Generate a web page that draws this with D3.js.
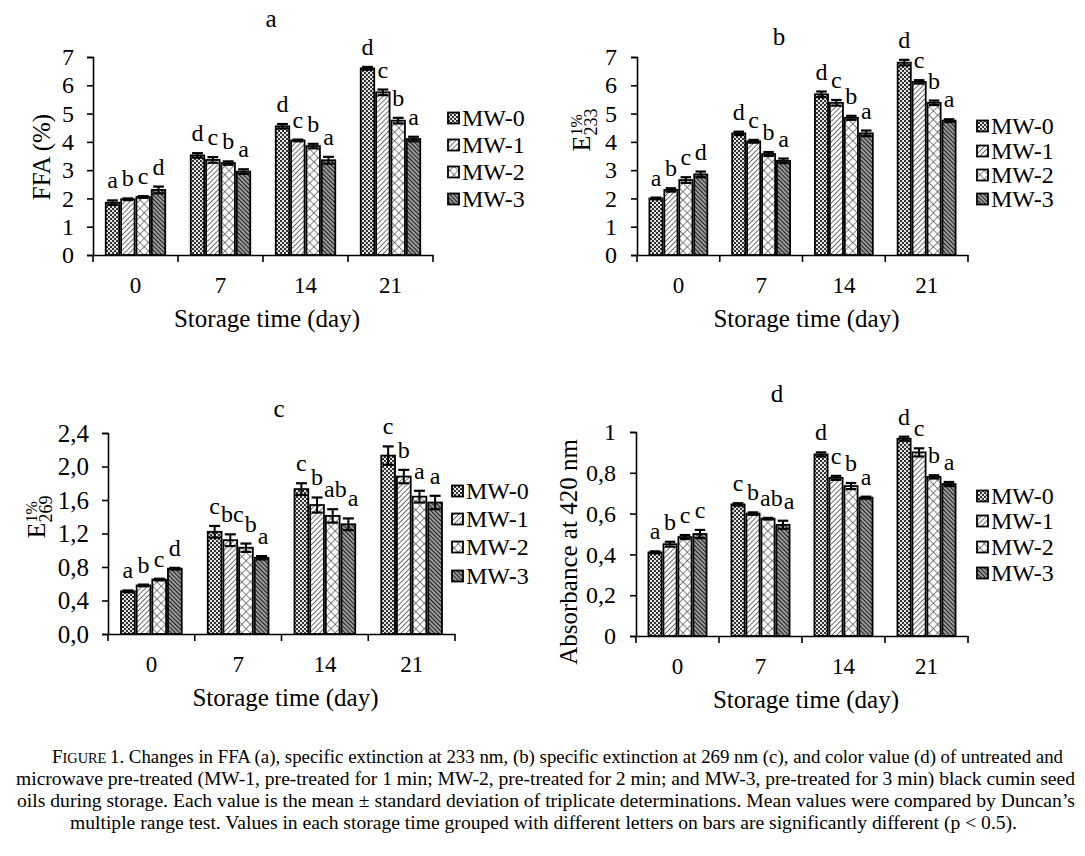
<!DOCTYPE html>
<html><head><meta charset="utf-8">
<script src="https://cdn.jsdelivr.net/npm/d3@7"></script>
<style>
body{margin:0;background:#fff}
svg{display:block}
text{font-family:"Liberation Serif","Times New Roman",serif;fill:#000}
</style>
</head><body>
<svg id="chart" width="1085" height="856"></svg>
<script>
// ---------- DATA ----------
const categories = ["0","7","14","21"];
const seriesNames = ["MW-0","MW-1","MW-2","MW-3"];

// Panel a: FFA (%)  [storage day][series]
const ffaMean = [[1.85,1.97,2.05,2.30],[3.52,3.36,3.25,2.95],[4.55,4.05,3.85,3.35],[6.60,5.75,4.75,4.10]];
const ffaErr  = [[0.08,0.03,0.03,0.12],[0.08,0.10,0.06,0.08],[0.08,0.03,0.08,0.12],[0.05,0.10,0.10,0.08]];
const ffaLetters = [["a","b","c","d"],["d","c","b","a"],["d","c","b","a"],["d","c","b","a"]];
const ffaTicks = [0,1,2,3,4,5,6,7];
const ffaTickLabels = ["0","1","2","3","4","5","6","7"];

// Panel b: E1%233
const e233Mean = [[2.00,2.30,2.65,2.85],[4.30,4.02,3.57,3.33],[5.68,5.38,4.85,4.30],[6.80,6.12,5.38,4.75]];
const e233Err  = [[0.03,0.06,0.10,0.10],[0.06,0.05,0.07,0.08],[0.10,0.10,0.07,0.10],[0.10,0.06,0.08,0.05]];
const e233Letters = [["a","b","c","d"],["d","c","b","a"],["d","c","b","a"],["d","c","b","a"]];
const e233Ticks = [0,1,2,3,4,5,6,7];
const e233TickLabels = ["0","1","2","3","4","5","6","7"];

// Panel c: E1%269
const e269Mean = [[0.51,0.58,0.65,0.78],[1.22,1.12,1.03,0.91],[1.73,1.54,1.41,1.31],[2.13,1.88,1.64,1.57]];
const e269Err  = [[0.01,0.01,0.01,0.01],[0.07,0.07,0.05,0.02],[0.07,0.09,0.08,0.07],[0.11,0.08,0.07,0.08]];
const e269Letters = [["a","b","c","d"],["c","bc","b","a"],["c","b","ab","a"],["c","b","a","a"]];
const e269Ticks = [0,0.4,0.8,1.2,1.6,2.0,2.4];
const e269TickLabels = ["0,0","0,4","0,8","1,2","1,6","2,0","2,4"];

// Panel d: Absorbance at 420 nm
const absMean = [[0.41,0.45,0.485,0.50],[0.645,0.60,0.575,0.545],[0.89,0.775,0.735,0.678],[0.967,0.90,0.78,0.745]];
const absErr  = [[0.005,0.012,0.010,0.020],[0.006,0.006,0.004,0.020],[0.010,0.010,0.015,0.005],[0.010,0.020,0.008,0.010]];
const absLetters = [["a","b","c","c"],["c","b","ab","a"],["d","c","b","a"],["d","c","b","a"]];
const absTicks = [0,0.2,0.4,0.6,0.8,1];
const absTickLabels = ["0","0,2","0,4","0,6","0,8","1"];

const xTitle = "Storage time (day)";
const captionLines = [
  "1. Changes in FFA (a), specific extinction at 233 nm, (b) specific extinction at 269 nm (c), and color value (d) of untreated and",
  "microwave pre-treated (MW-1, pre-treated for 1 min; MW-2, pre-treated for 2 min; and MW-3, pre-treated for 3 min) black cumin seed",
  "oils during storage. Each value is the mean \u00b1 standard deviation of triplicate determinations. Mean values were compared by Duncan\u2019s",
  "multiple range test. Values in each storage time grouped  with different letters on bars are significantly different (p < 0.5)."
];

// ---------- LAYOUT ----------
const panels = [
  {mean:ffaMean, err:ffaErr, letters:ffaLetters, ticks:ffaTicks, tickLabels:ffaTickLabels, max:7,
   left:93, right:433, top:57, bottom:255, title:"a", titleX:271, titleY:27, yFont:24,
   legX:448, legY:[118,145,172,199], ylab:{type:"plain", text:"FFA (%)", x:50, y:157}, xTitleY:327, tickGap:19},
  {mean:e233Mean, err:e233Err, letters:e233Letters, ticks:e233Ticks, tickLabels:e233TickLabels, max:7,
   left:637, right:968, top:57, bottom:255, title:"b", titleX:779, titleY:45, yFont:24,
   legX:977, legY:[126,151,175,199], ylab:{type:"E", sub:"233", x:590, y:130}, xTitleY:327, tickGap:20},
  {mean:e269Mean, err:e269Err, letters:e269Letters, ticks:e269Ticks, tickLabels:e269TickLabels, max:2.4,
   left:108, right:455, top:433, bottom:634, title:"c", titleX:279, titleY:417, yFont:25,
   legX:452, legY:[491,519,547,576], ylab:{type:"E", sub:"269", x:45, y:517}, xTitleY:706, tickGap:19},
  {mean:absMean, err:absErr, letters:absLetters, ticks:absTicks, tickLabels:absTickLabels, max:1,
   left:636, right:968, top:432, bottom:636, title:"d", titleX:777, titleY:402, yFont:24,
   legX:977, legY:[496,521,547,573], ylab:{type:"plain", text:"Absorbance at 420 nm", x:577, y:552}, xTitleY:708, tickGap:20}
];

const svg = d3.select("#chart");
const defs = svg.append("defs");

// patterns
(function(){
  let p = defs.append("pattern").attr("id","pat0").attr("patternUnits","userSpaceOnUse").attr("width",4).attr("height",4);
  p.append("rect").attr("width",4).attr("height",4).attr("fill","#e4e4e4");
  p.append("rect").attr("width",2).attr("height",2).attr("fill","#333");
  p.append("rect").attr("x",2).attr("y",2).attr("width",2).attr("height",2).attr("fill","#333");

  p = defs.append("pattern").attr("id","pat1").attr("patternUnits","userSpaceOnUse").attr("width",3.6).attr("height",3.6)
      .attr("patternTransform","rotate(45)");
  p.append("rect").attr("width",3.6).attr("height",3.6).attr("fill","#fff");
  p.append("line").attr("x1",0).attr("y1",0).attr("x2",0).attr("y2",3.6).attr("stroke","#333").attr("stroke-width",1.4);

  p = defs.append("pattern").attr("id","pat2").attr("patternUnits","userSpaceOnUse").attr("width",6).attr("height",6)
      .attr("patternTransform","rotate(45)");
  p.append("rect").attr("width",6).attr("height",6).attr("fill","#fff");
  p.append("line").attr("x1",0).attr("y1",0).attr("x2",6).attr("y2",0).attr("stroke","#444").attr("stroke-width",1.3);
  p.append("line").attr("x1",0).attr("y1",0).attr("x2",0).attr("y2",6).attr("stroke","#444").attr("stroke-width",1.3);

  p = defs.append("pattern").attr("id","pat3").attr("patternUnits","userSpaceOnUse").attr("width",3).attr("height",3)
      .attr("patternTransform","rotate(-45)");
  p.append("rect").attr("width",3).attr("height",3).attr("fill","#999");
  p.append("line").attr("x1",0).attr("y1",0).attr("x2",0).attr("y2",3).attr("stroke","#111").attr("stroke-width",1.8);
})();
const fills = seriesNames.map((s,i)=>`url(#pat${i})`);

panels.forEach(P => {
  const g = svg.append("g");
  const x0 = d3.scaleBand().domain(categories).range([P.left, P.right]).paddingInner(0.3).paddingOuter(0.15);
  const x1 = d3.scaleBand().domain(seriesNames).range([0, x0.bandwidth()]).paddingInner(0.12);
  const y = d3.scaleLinear().domain([0, P.max]).range([P.bottom, P.top]);

  // y axis
  const yAxis = d3.axisLeft(y).tickValues(P.ticks).tickFormat((d,i)=>P.tickLabels[i]).tickSizeOuter(0).tickSize(6).tickPadding(P.tickGap-6);
  const ya = g.append("g").attr("transform",`translate(${P.left},0)`).call(yAxis);
  ya.select(".domain").attr("stroke","#000").attr("stroke-width",1.6);
  ya.selectAll(".tick line").attr("stroke","#000").attr("stroke-width",1.6);
  ya.selectAll(".tick text").attr("font-size",P.yFont).attr("font-family","Liberation Serif").attr("fill","#000");

  // x axis with ticks at category boundaries
  const xa = g.append("g").attr("transform",`translate(0,${P.bottom})`).call(d3.axisBottom(x0).tickSize(0).tickPadding(22));
  xa.select(".domain").attr("stroke","#000").attr("stroke-width",1.6);
  xa.selectAll(".tick text").attr("font-size",23).attr("font-family","Liberation Serif").attr("fill","#000");
  const step = x0.step();
  const bounds = categories.map(c => x0(c) - step*0.15).concat([x0(categories[categories.length-1]) + x0.bandwidth() + step*0.15]);
  g.selectAll(".xb").data(bounds).join("line").attr("x1",d=>d).attr("x2",d=>d)
    .attr("y1",P.bottom).attr("y2",P.bottom+7).attr("stroke","#000").attr("stroke-width",1.6);

  // bars
  const flat = [];
  categories.forEach((c,ci)=>seriesNames.forEach((s,si)=>flat.push({c,ci,s,si,v:P.mean[ci][si],e:P.err[ci][si],l:P.letters[ci][si]})));
  g.selectAll(".bar").data(flat).join("rect")
    .attr("x",d=>x0(d.c)+x1(d.s)).attr("width",x1.bandwidth())
    .attr("y",d=>y(d.v)).attr("height",d=>y(0)-y(d.v))
    .attr("fill",d=>fills[d.si]).attr("stroke","#000").attr("stroke-width",1.8);

  // error bars
  const cap = x1.bandwidth()*0.8;
  const eb = g.selectAll(".eb").data(flat).join("g");
  eb.append("line").attr("x1",d=>x0(d.c)+x1(d.s)+x1.bandwidth()/2).attr("x2",d=>x0(d.c)+x1(d.s)+x1.bandwidth()/2)
    .attr("y1",d=>y(d.v-d.e)).attr("y2",d=>y(d.v+d.e)).attr("stroke","#000").attr("stroke-width",2);
  eb.append("line").attr("x1",d=>x0(d.c)+x1(d.s)+(x1.bandwidth()-cap)/2).attr("x2",d=>x0(d.c)+x1(d.s)+(x1.bandwidth()+cap)/2)
    .attr("y1",d=>y(d.v+d.e)).attr("y2",d=>y(d.v+d.e)).attr("stroke","#000").attr("stroke-width",2.2);
  eb.append("line").attr("x1",d=>x0(d.c)+x1(d.s)+(x1.bandwidth()-cap)/2).attr("x2",d=>x0(d.c)+x1(d.s)+(x1.bandwidth()+cap)/2)
    .attr("y1",d=>y(d.v-d.e)).attr("y2",d=>y(d.v-d.e)).attr("stroke","#000").attr("stroke-width",2.2);

  // letters (with simple left-to-right collision nudging inside each group)
  const lets = g.selectAll(".let").data(flat).join("text")
    .attr("x",d=>x0(d.c)+x1(d.s)+x1.bandwidth()/2).attr("y",d=>y(d.v+d.e)-12)
    .attr("text-anchor","middle").attr("font-size",24).text(d=>d.l);
  const nodes = lets.nodes();
  categories.forEach((c,ci)=>{
    let prev = null;
    nodes.filter(n=>d3.select(n).datum().ci===ci).forEach(n=>{
      const b = n.getBBox();
      if (prev) {
        const vOver = b.y < prev.y + prev.height - 3 && b.y + b.height > prev.y + 3;
        const hOver = prev.x + prev.width - b.x;
        if (vOver && hOver > -1) {
          const shift = hOver + 1;
          n.setAttribute("x", +n.getAttribute("x") + shift);
          b.x += shift;
        }
      }
      prev = {x:b.x, y:b.y, width:b.width, height:b.height};
    });
  });

  // title
  g.append("text").attr("x",P.titleX).attr("y",P.titleY).attr("text-anchor","middle").attr("font-size",25).text(P.title);

  // x title
  g.append("text").attr("x",(P.left+P.right)/2 + 4).attr("y",P.xTitleY).attr("text-anchor","middle").attr("font-size",25).text(xTitle);

  // y label
  const yl = g.append("g").attr("transform",`translate(${P.ylab.x},${P.ylab.y}) rotate(-90)`);
  if (P.ylab.type === "plain") {
    yl.append("text").attr("x",0).attr("y",0).attr("text-anchor","middle").attr("font-size",25).text(P.ylab.text);
  } else {
    const tE = yl.append("text").attr("font-size",26).text("E");
    const tSup = yl.append("text").attr("font-size",16).text("1%");
    const tSub = yl.append("text").attr("font-size",18).text(P.ylab.sub);
    const wE = tE.node().getComputedTextLength();
    const w2 = Math.max(tSup.node().getComputedTextLength(), tSub.node().getComputedTextLength());
    const x0p = -(wE + w2)/2;
    tE.attr("x",x0p).attr("y",0);
    tSup.attr("x",x0p+wE).attr("y",-8);
    tSub.attr("x",x0p+wE).attr("y",7);
  }

  // legend
  const lg = g.append("g");
  seriesNames.forEach((s,i)=>{
    lg.append("rect").attr("x",P.legX).attr("y",P.legY[i]-5.5).attr("width",11).attr("height",11)
      .attr("fill",fills[i]).attr("stroke","#000").attr("stroke-width",1.8);
    lg.append("text").attr("x",P.legX+14).attr("y",P.legY[i]+8).attr("font-size",24).text(s);
  });
});

// caption
const capG = svg.append("g");
const capLayout = [
  {x:52, w:1011, y:763},
  {x:16, w:1059, y:785},
  {x:17, w:1058, y:807},
  {x:70, w:947, y:829}
];
captionLines.forEach((line,i)=>{
  const L = capLayout[i];
  const t = capG.append("text").attr("x",L.x).attr("y",L.y).attr("font-size",19)
    .attr("textLength",L.w).attr("lengthAdjust","spacingAndGlyphs");
  if (i===0) {
    t.append("tspan").text("F");
    t.append("tspan").attr("font-size",14.5).text("IGURE ");
    t.append("tspan").text(line);
  } else {
    t.text(line);
  }
});
</script>
</body></html>
